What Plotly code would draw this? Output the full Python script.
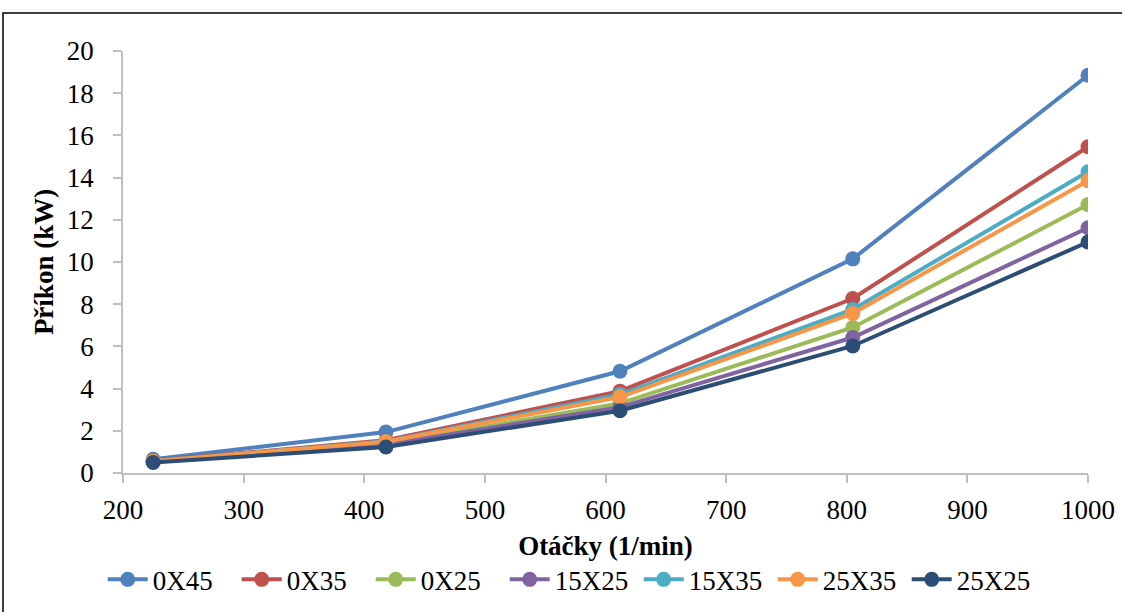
import plotly.graph_objects as go

rpm = [225, 418, 612, 805, 1000]
series_names = ["0X45", "0X35", "0X25", "15X25", "15X35", "25X35", "25X25"]
s_0x45 = [0.65, 1.94, 4.82, 10.15, 18.85]
s_0x35 = [0.58, 1.55, 3.88, 8.27, 15.46]
s_0x25 = [0.55, 1.40, 3.30, 6.90, 12.72]
s_15x25 = [0.53, 1.35, 3.12, 6.42, 11.62]
s_15x35 = [0.56, 1.50, 3.72, 7.75, 14.28]
s_25x35 = [0.56, 1.48, 3.60, 7.56, 13.85]
s_25x25 = [0.50, 1.23, 2.95, 6.02, 10.95]
colors = ["#4F81BD", "#C0504D", "#9BBB59", "#8064A2", "#4BACC6", "#F79646", "#2C4D75"]
values = [s_0x45, s_0x35, s_0x25, s_15x25, s_15x35, s_25x35, s_25x25]

fig = go.Figure()
for name, vals, col in zip(series_names, values, colors):
    fig.add_trace(go.Scatter(
        x=rpm, y=vals, name=name, mode="lines+markers",
        line=dict(color=col, width=4),
        marker=dict(color=col, size=15),
    ))

font_family = "Liberation Serif, Times New Roman, serif"
axis_common = dict(
    showgrid=False, zeroline=False, showline=True, linecolor="#BFBFBF", linewidth=1.5,
    ticks="outside", ticklen=8, tickcolor="#BFBFBF", tickwidth=1.5,
    tickfont=dict(family=font_family, size=27, color="black"),
)
fig.update_layout(
    width=1122, height=612,
    paper_bgcolor="white", plot_bgcolor="white",
    margin=dict(l=123, r=34, t=51, b=139, autoexpand=False),
    font=dict(family=font_family, color="black"),
    xaxis=dict(range=[200, 1000], dtick=100, tick0=200, ticklabelstandoff=4,
               title=dict(text="<b>Otáčky (1/min)</b>", font=dict(size=27), standoff=12),
               **axis_common),
    yaxis=dict(range=[0, 20], dtick=2, ticklabelstandoff=14,
               title=dict(text="<b>Příkon (kW)</b>", font=dict(size=27), standoff=5),
               **axis_common),
    legend=dict(orientation="h", x=0.465, xanchor="center", y=-0.195, yanchor="top",
                font=dict(size=27), itemwidth=40, tracegroupgap=0, entrywidth=79),
    shapes=[dict(type="rect", xref="paper", yref="paper",
                 x0=(3 - 123) / 965, x1=1.2, y0=-0.6, y1=(473 - 13) / 422,
                 line=dict(color="black", width=1.5), fillcolor="rgba(0,0,0,0)", layer="below")],
)
fig.write_html("out.html", config={"displayModeBar": False},
               post_script="document.body.style.margin='0';document.body.style.overflow='hidden';")
